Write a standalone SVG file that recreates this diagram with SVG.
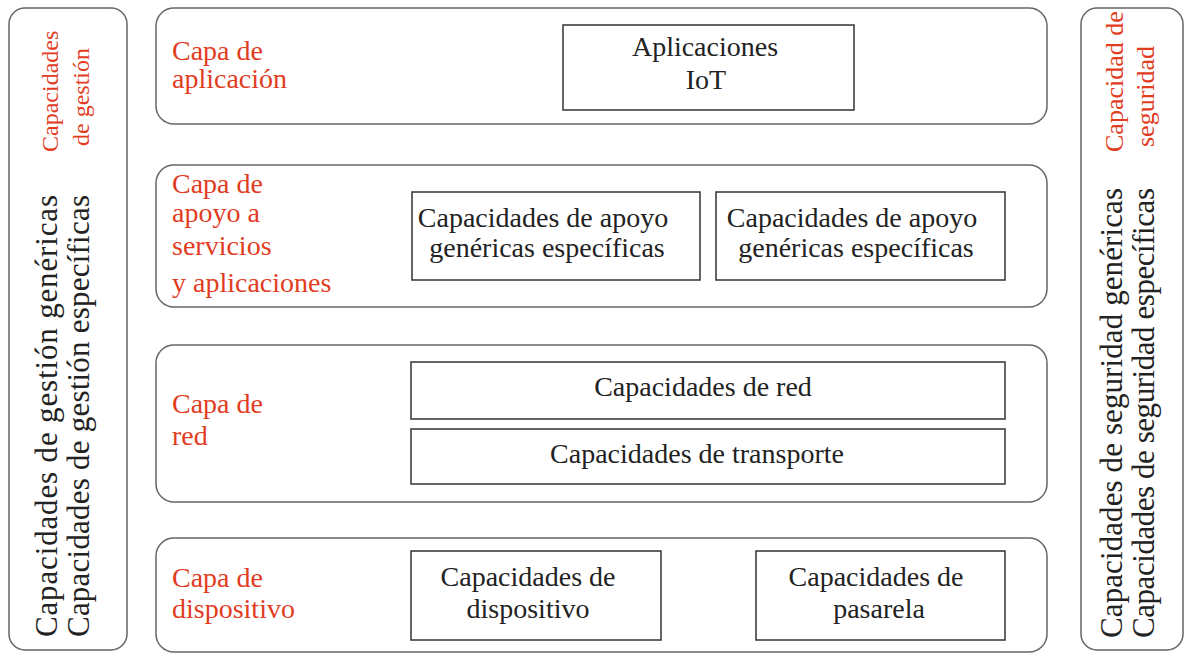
<svg xmlns="http://www.w3.org/2000/svg" width="1192" height="656" viewBox="0 0 1192 656">
<style>
.panel{fill:#fff;stroke:#666;stroke-width:1.5}
.box{fill:#fff;stroke:#333;stroke-width:1.5}
text{font-family:'Liberation Serif','DejaVu Serif',serif}
.lbl{font-size:28px;fill:#e23c1f}
.txt{font-size:28px;fill:#222;text-anchor:middle}
.vt{font-size:31px;fill:#222}
.vr{font-size:24px;fill:#e23c1f}
</style>
<rect width="1192" height="656" fill="#fff"/>
<g id="gestion">
<rect class="panel" x="9" y="8" width="118" height="642" rx="16"/>
<text class="vt" font-family="Liberation Serif, serif" transform="translate(57,637) rotate(-90)" textLength="442">Capacidades de gestión genéricas</text>
<text class="vt" font-family="Liberation Serif, serif" transform="translate(89,637) rotate(-90)" textLength="442">Capacidades de gestión específicas</text>
<text class="vr" font-family="Liberation Serif, serif" transform="translate(58,152) rotate(-90)">Capacidades</text>
<text class="vr" font-family="Liberation Serif, serif" transform="translate(89,146) rotate(-90)">de gestión</text>
</g>
<g id="seguridad">
<rect class="panel" x="1081" y="8" width="102" height="642" rx="16"/>
<text class="vt" font-family="Liberation Serif, serif" transform="translate(1122,638) rotate(-90)" textLength="450">Capacidades de seguridad genéricas</text>
<text class="vt" font-family="Liberation Serif, serif" transform="translate(1154,638) rotate(-90)" textLength="450">Capacidades de seguridad específicas</text>
<text class="vr" font-family="Liberation Serif, serif" style="font-size:26px" transform="translate(1123,152) rotate(-90)">Capacidad de</text>
<text class="vr" font-family="Liberation Serif, serif" style="font-size:26px" transform="translate(1154,147) rotate(-90)">seguridad</text>
</g>
<g id="capa-aplicacion">
<rect class="panel" x="156" y="8" width="891" height="116" rx="18"/>
<text class="lbl" x="172" y="60">Capa de</text>
<text class="lbl" x="172" y="88">aplicación</text>
</g>
<g id="aplicaciones-iot">
<rect class="box" x="563" y="25" width="291" height="85"/>
<text class="txt" x="705" y="56">Aplicaciones</text>
<text class="txt" x="706" y="89">IoT</text>
</g>
<g id="capa-apoyo">
<rect class="panel" x="156" y="165" width="891" height="142" rx="18"/>
<text class="lbl" x="172" y="193">Capa de</text>
<text class="lbl" x="172" y="222">apoyo a</text>
<text class="lbl" x="172" y="255">servicios</text>
<text class="lbl" x="172" y="292">y aplicaciones</text>
</g>
<g id="apoyo-1">
<rect class="box" x="412" y="192" width="288" height="88"/>
<text class="txt" x="543" y="227">Capacidades de apoyo</text>
<text class="txt" x="547" y="257">genéricas específicas</text>
</g>
<g id="apoyo-2">
<rect class="box" x="716" y="192" width="289" height="88"/>
<text class="txt" x="852" y="227">Capacidades de apoyo</text>
<text class="txt" x="856" y="257">genéricas específicas</text>
</g>
<g id="capa-red">
<rect class="panel" x="156" y="345" width="891" height="157" rx="18"/>
<text class="lbl" x="172" y="413">Capa de</text>
<text class="lbl" x="172" y="445">red</text>
</g>
<g id="red">
<rect class="box" x="411" y="362" width="594" height="57"/>
<text class="txt" x="703" y="396">Capacidades de red</text>
</g>
<g id="transporte">
<rect class="box" x="411" y="429" width="594" height="55"/>
<text class="txt" x="697" y="463">Capacidades de transporte</text>
</g>
<g id="capa-dispositivo">
<rect class="panel" x="156" y="538" width="891" height="114" rx="18"/>
<text class="lbl" x="172" y="587">Capa de</text>
<text class="lbl" x="172" y="618">dispositivo</text>
</g>
<g id="dispositivo">
<rect class="box" x="411" y="551" width="250" height="89"/>
<text class="txt" x="528" y="586">Capacidades de</text>
<text class="txt" x="528" y="618">dispositivo</text>
</g>
<g id="pasarela">
<rect class="box" x="756" y="551" width="249" height="89"/>
<text class="txt" x="876" y="586">Capacidades de</text>
<text class="txt" x="879" y="618">pasarela</text>
</g>
<g id="connectors"></g>
</svg>
